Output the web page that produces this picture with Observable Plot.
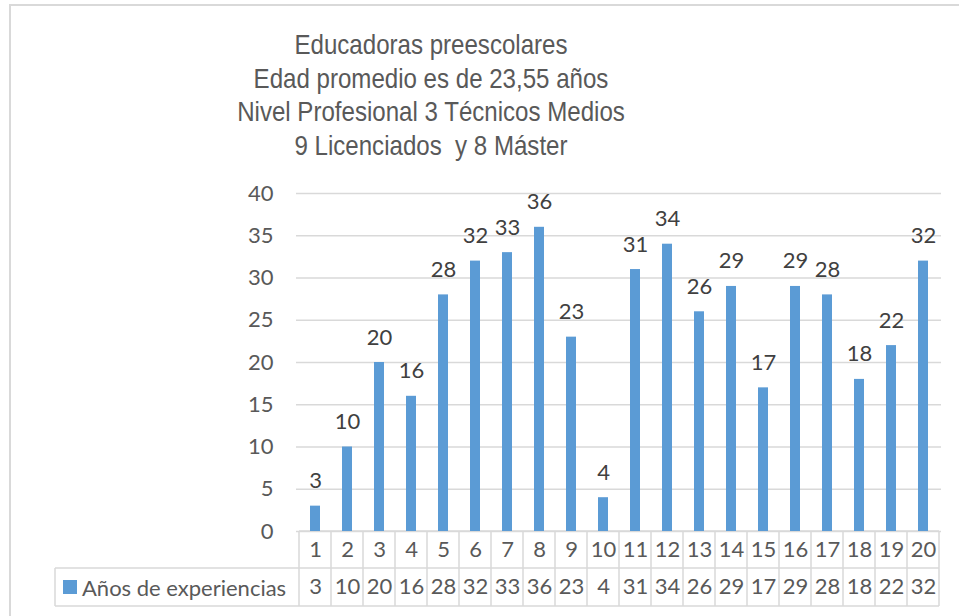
<!DOCTYPE html>
<html>
<head>
<meta charset="utf-8">
<script src="https://cdn.jsdelivr.net/npm/d3@7"></script>
<script src="https://cdn.jsdelivr.net/npm/@observablehq/plot@0.6"></script>
<style>
  html, body { margin: 0; padding: 0; background: #fff; overflow: hidden; width: 959px; height: 616px; }
  #frame { position: absolute; left: 9px; top: 4px; width: 1000px; height: 700px; border: 2px solid #d9d9d9; box-sizing: border-box; }
  #title { position: absolute; left: 131px; width: 600px; top: 28px; text-align: center;
           font-family: "Liberation Sans", Arial, sans-serif; font-size: 28px; line-height: 33.5px; color: #595959;
           transform: scaleX(0.86); transform-origin: 300px 0; }
  #chart { position: absolute; left: 0; top: 175px; }
</style>
</head>
<body>
<div id="frame"></div>
<div id="title"></div>
<div id="chart"></div>
<script>
const titleLines = [
  "Educadoras preescolares",
  "Edad promedio es de 23,55 años",
  "Nivel Profesional 3 Técnicos Medios",
  "9 Licenciados  y 8 Máster"
];
const categories = [1, 2, 3, 4, 5, 6, 7, 8, 9, 10, 11, 12, 13, 14, 15, 16, 17, 18, 19, 20];
const values = [3, 10, 20, 16, 28, 32, 33, 36, 23, 4, 31, 34, 26, 29, 17, 29, 28, 18, 22, 32];
const yTicks = [0, 5, 10, 15, 20, 25, 30, 35, 40];
const seriesName = "Años de experiencias";

document.getElementById("title").innerHTML = titleLines.map(t => `<div style="white-space:pre">${t}</div>`).join("");

const data = categories.map((c, i) => ({cat: c, val: values[i]}));
const FONT = "Lato, 'Open Sans', sans-serif";
const FS = 22;
const blue = "#5b9bd5";
const grey = "#d9d9d9";
const txt = "#595959";

const chart = Plot.plot({
  width: 959,
  height: 441,
  marginLeft: 296,
  marginRight: 18,
  marginTop: 18,
  marginBottom: 85,
  style: {fontFamily: FONT, background: "transparent", overflow: "visible"},
  x: {domain: categories, padding: 0, axis: null},
  y: {domain: [0, 40]},
  marks: [
    Plot.gridY(yTicks, {stroke: grey, strokeOpacity: 1, strokeWidth: 1.3}),
    Plot.axisY(yTicks, {tickSize: 0, tickPadding: 23, fontSize: FS, fill: txt, label: null}),
    Plot.barY(data, {x: "cat", y: "val", fill: blue, insetLeft: 11, insetRight: 11}),
    Plot.text(data, {x: "cat", y: "val", text: d => String(d.val), dy: -25, fontSize: FS, fill: "#404040"}),
    Plot.text(data, {x: "cat", text: d => String(d.cat), frameAnchor: "bottom", dy: 25, fontSize: FS, fill: txt}),
    Plot.text(data, {x: "cat", text: d => String(d.val), frameAnchor: "bottom", dy: 62, fontSize: FS, fill: txt})
  ]
});

document.getElementById("chart").appendChild(chart);

// Data table grid drawn with the plot's x scale
const xs = chart.scale("x");
const bw = xs.bandwidth;
const svg = d3.select(chart);
const y0 = 441 - 85;
const r1 = y0 + 37, r2 = y0 + 75;
const left = xs.apply(categories[0]);
const right = xs.apply(categories[categories.length - 1]) + bw;
const legendLeft = 55;
const g = svg.insert("g", ":first-child").attr("stroke", grey).attr("stroke-width", 1.5).attr("fill", "none");
g.append("line").attr("x1", left).attr("x2", right).attr("y1", y0).attr("y2", y0);
g.append("line").attr("x1", legendLeft).attr("x2", right).attr("y1", r1).attr("y2", r1);
g.append("line").attr("x1", legendLeft).attr("x2", right).attr("y1", r2).attr("y2", r2);
g.append("line").attr("x1", legendLeft).attr("x2", legendLeft).attr("y1", r1).attr("y2", r2);
categories.forEach(c => {
  const xx = xs.apply(c);
  g.append("line").attr("x1", xx).attr("x2", xx).attr("y1", y0).attr("y2", r2);
});
g.append("line").attr("x1", right).attr("x2", right).attr("y1", y0).attr("y2", r2);

const lg = svg.append("g").attr("text-anchor", "start");
lg.append("rect").attr("x", 63).attr("y", (r1 + r2) / 2 - 7).attr("width", 14).attr("height", 14).attr("fill", blue);
lg.append("text").attr("x", 82).attr("y", (r1 + r2) / 2 + 1).attr("dy", "0.35em").attr("text-anchor", "start")
  .attr("font-family", FONT).attr("font-size", FS).attr("fill", txt).text(seriesName);
</script>
</body>
</html>
